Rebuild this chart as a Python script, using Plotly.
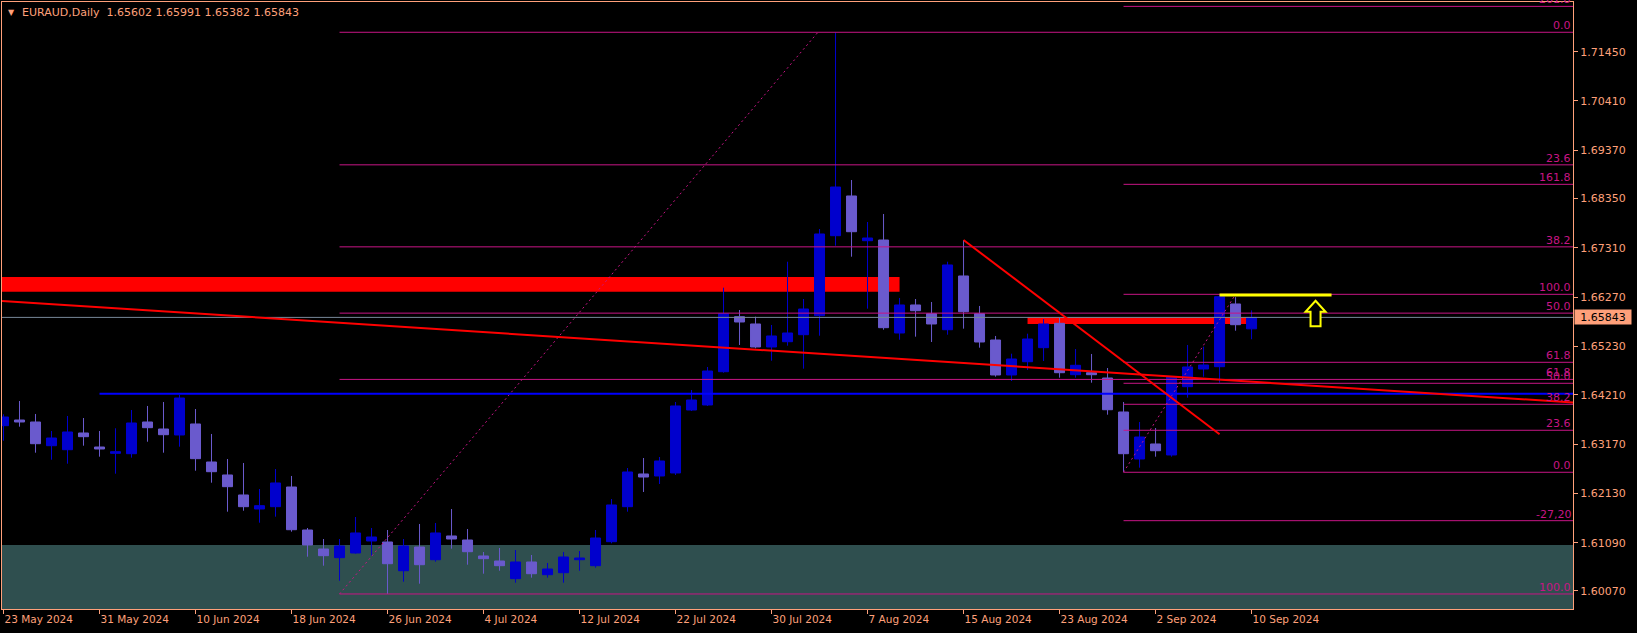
import plotly.graph_objects as go

# ---------------- data ----------------
symbol = "EURAUD,Daily"
# daily bars, index 0 = 23 May 2024 ... index 78 = 10 Sep 2024 (weekdays)
opens = [1.63558, 1.63678, 1.63636, 1.63136, 1.63051, 1.63404, 1.63108, 1.62975, 1.62967, 1.63636,
         1.63488, 1.63362, 1.63594, 1.62792, 1.62518, 1.62096, 1.61800, 1.61849, 1.62264, 1.61357,
         1.60956, 1.60773, 1.60872, 1.61125, 1.61104, 1.60498, 1.60998, 1.60730, 1.61231, 1.61146,
         1.60809, 1.60703, 1.60330, 1.60682, 1.60414, 1.60456, 1.60730, 1.60604, 1.61110, 1.61849,
         1.62539, 1.62497, 1.62560, 1.63889, 1.63995, 1.64697, 1.65858, 1.65704, 1.65219, 1.65330,
         1.65478, 1.65879, 1.67567, 1.68405, 1.67461, 1.67476, 1.65514, 1.66105, 1.65921, 1.65583,
         1.66717, 1.65921, 1.65366, 1.64628, 1.64908, 1.65204, 1.65718, 1.64634, 1.64676, 1.64564,
         1.63847, 1.62855, 1.63172, 1.62940, 1.64381, 1.64754, 1.64803, 1.66126, 1.65602]
highs = [1.63798, 1.64079, 1.63805, 1.63446, 1.63763, 1.63720, 1.63446, 1.63503, 1.63889, 1.63974,
         1.64058, 1.64206, 1.63910, 1.63383, 1.62855, 1.62771, 1.62222, 1.62644, 1.62497, 1.61399,
         1.61167, 1.61167, 1.61631, 1.61399, 1.61357, 1.61167, 1.61484, 1.61505, 1.61800, 1.61378,
         1.60893, 1.60977, 1.60935, 1.60830, 1.60661, 1.60893, 1.60914, 1.61357, 1.62011, 1.62665,
         1.62876, 1.62897, 1.64058, 1.64311, 1.64797, 1.66470, 1.65999, 1.65858, 1.65683, 1.67018,
         1.66231, 1.67708, 1.71855, 1.68742, 1.67856, 1.68025, 1.66253, 1.66231, 1.66168, 1.67018,
         1.67476, 1.66084, 1.65451, 1.65077, 1.65499, 1.65809, 1.65831, 1.65176, 1.65071, 1.64775,
         1.64058, 1.63636, 1.63509, 1.64607, 1.65261, 1.65225, 1.66325, 1.66270, 1.65991]
lows = [1.63241, 1.63537, 1.62988, 1.62840, 1.62756, 1.63136, 1.62904, 1.62545, 1.62883, 1.63220,
        1.62988, 1.63115, 1.62608, 1.62355, 1.61743, 1.61764, 1.61511, 1.61638, 1.61321, 1.60794,
        1.60604, 1.60287, 1.60857, 1.60815, 1.60007, 1.60266, 1.60224, 1.60688, 1.60963, 1.60625,
        1.60435, 1.60498, 1.60245, 1.60351, 1.60351, 1.60245, 1.60498, 1.60562, 1.61076, 1.61743,
        1.62159, 1.62328, 1.62518, 1.63868, 1.63974, 1.64676, 1.65261, 1.65191, 1.64929, 1.65246,
        1.64761, 1.65457, 1.67356, 1.67124, 1.66027, 1.65583, 1.65372, 1.65436, 1.65324, 1.65478,
        1.65605, 1.65204, 1.64592, 1.64501, 1.64733, 1.64923, 1.64571, 1.64571, 1.64465, 1.63790,
        1.62578, 1.62672, 1.62904, 1.62904, 1.64149, 1.64592, 1.64465, 1.65562, 1.65382]
closes = [1.63741, 1.63636, 1.63178, 1.63298, 1.63425, 1.63326, 1.63066, 1.63009, 1.63615, 1.63516,
          1.63368, 1.64142, 1.62862, 1.62587, 1.62271, 1.61849, 1.61870, 1.62349, 1.61363, 1.61041,
          1.60815, 1.61020, 1.61294, 1.61209, 1.60646, 1.61020, 1.60625, 1.61294, 1.61167, 1.60899,
          1.60752, 1.60604, 1.60682, 1.60435, 1.60534, 1.60787, 1.60766, 1.61188, 1.61885, 1.62581,
          1.62475, 1.62813, 1.63974, 1.64100, 1.64712, 1.65921, 1.65746, 1.65219, 1.65451, 1.65514,
          1.66020, 1.67603, 1.68594, 1.67651, 1.67518, 1.65626, 1.66105, 1.65984, 1.65704, 1.66949,
          1.65963, 1.65324, 1.64628, 1.64965, 1.65387, 1.65704, 1.64676, 1.64832, 1.64634, 1.63895,
          1.62967, 1.63319, 1.63030, 1.64592, 1.64797, 1.64839, 1.66280, 1.65689, 1.65843]
bar_index = list(range(len(closes)))

date_tick_index = [0, 6, 12, 18, 24, 30, 36, 42, 48, 54, 60, 66, 72, 78]
date_tick_labels = ["23 May 2024", "31 May 2024", "10 Jun 2024", "18 Jun 2024", "26 Jun 2024",
                    "4 Jul 2024", "12 Jul 2024", "22 Jul 2024", "30 Jul 2024", "7 Aug 2024",
                    "15 Aug 2024", "23 Aug 2024", "2 Sep 2024", "10 Sep 2024"]
price_ticks = [1.60070, 1.61090, 1.62130, 1.63170, 1.64210, 1.65230,
               1.66270, 1.67310, 1.68350, 1.69370, 1.70410, 1.71450]

# Fibonacci retracement 1 (26 Jun low -> 5 Aug high)
fib1_start = (21, 1.60007)
fib1_end = (50.9, 1.71859)
fib1_levels = [0.0, 23.6, 38.2, 50.0, 61.8, 100.0]
fib1_texts = ["0.0", "23.6", "38.2", "50.0", "61.8", "100.0"]
# Fibonacci retracement 2 (29 Aug low -> 9 Sep high)
fib2_start = (70, 1.62575)
fib2_end = (77, 1.66330)
fib2_levels = [-27.2, 0.0, 23.6, 38.2, 50.0, 61.8, 100.0, 161.8, 261.8]
fib2_texts = ["-27,20", "0.0", "23.6", "38.2", "50.0", "61.8", "100.0", "161.8", "261.8"]

# other drawn objects
support_zone_top = 1.61041
resistance_band_1 = (-3, 56, 1.66385, 1.66695)
resistance_band_2 = (64, 78, 1.65704, 1.65851)
blue_level = (6, 1.64233)
long_trend = [(0, 1.66189), (98, 1.64049)]
down_trend = [(60, 1.67476), (76, 1.63376)]
breakout_level = [(76, 1.66316), (83, 1.66316)]
arrow_anchor = (82, 1.66195)
current_price = closes[-1]

# ---------------- style / layout ----------------
W, H = 1637, 633
ML, MR, MT, MB = 2, 64, 2, 24
X_RANGE = [-0.094, 98.09]
Y_RANGE = [1.59690, 1.72498]
FG = "#FFA07A"
BULL = "#0000CD"
BEAR = "#6A5ACD"
FIB = "#C71585"
FONT = "DejaVu Sans"

px_per_x = (W - ML - MR) / (X_RANGE[1] - X_RANGE[0])
px_per_y = (H - MT - MB) / (Y_RANGE[1] - Y_RANGE[0])

fig = go.Figure()
fig.add_trace(go.Candlestick(
    x=bar_index, open=opens, high=highs, low=lows, close=closes,
    increasing=dict(line=dict(color=BULL, width=1), fillcolor=BULL),
    decreasing=dict(line=dict(color=BEAR, width=1), fillcolor=BEAR),
    whiskerwidth=0, hoverinfo="skip", showlegend=False,
))

shapes = []
annotations = []

# background objects
shapes.append(dict(type="rect", xref="paper", yref="y", x0=0, x1=1,
                   y0=Y_RANGE[0] - 0.01, y1=support_zone_top,
                   fillcolor="#2F4F4F", line=dict(width=0), layer="below"))
for x0, x1, y0, y1 in (resistance_band_1, resistance_band_2):
    shapes.append(dict(type="rect", xref="x", yref="y", x0=x0, x1=x1, y0=y0, y1=y1,
                       fillcolor="#FF0000", line=dict(width=0), layer="below"))

# fib 1
f1_lo, f1_hi = fib1_start[1], fib1_end[1]
for lv, tx in zip(fib1_levels, fib1_texts):
    p = f1_hi - lv / 100.0 * (f1_hi - f1_lo)
    shapes.append(dict(type="line", xref="x", yref="y", x0=fib1_start[0], x1=X_RANGE[1],
                       y0=p, y1=p, line=dict(color=FIB, width=1), layer="above"))
    annotations.append(dict(xref="paper", yref="y", x=1, y=p, text=tx, showarrow=False,
                            xanchor="right", yanchor="bottom", yshift=-2,
                            font=dict(family=FONT, size=11, color=FIB)))
shapes.append(dict(type="line", xref="x", yref="y", x0=fib1_start[0], y0=fib1_start[1],
                   x1=fib1_end[0], y1=fib1_end[1],
                   line=dict(color=FIB, width=1, dash="2px,3px"), layer="above"))

# fib 2
f2_lo, f2_hi = fib2_start[1], fib2_end[1]
for lv, tx in zip(fib2_levels, fib2_texts):
    p = f2_lo + lv / 100.0 * (f2_hi - f2_lo)
    shapes.append(dict(type="line", xref="x", yref="y", x0=fib2_start[0], x1=X_RANGE[1],
                       y0=p, y1=p, line=dict(color=FIB, width=1), layer="above"))
    annotations.append(dict(xref="paper", yref="y", x=1, y=p, text=tx, showarrow=False,
                            xanchor="right", yanchor="bottom", yshift=-2,
                            font=dict(family=FONT, size=11, color=FIB)))
shapes.append(dict(type="line", xref="x", yref="y", x0=fib2_start[0], y0=fib2_start[1],
                   x1=fib2_end[0], y1=fib2_end[1],
                   line=dict(color=FIB, width=1, dash="2px,3px"), layer="above"))

# current price line
shapes.append(dict(type="line", xref="paper", yref="y", x0=0, x1=1, y0=current_price,
                   y1=current_price, line=dict(color="#778899", width=1), layer="above"))
# blue horizontal level
shapes.append(dict(type="line", xref="x", yref="y", x0=blue_level[0], x1=X_RANGE[1],
                   y0=blue_level[1], y1=blue_level[1],
                   line=dict(color="#0000FF", width=2), layer="above"))
# long red trend line (extended both ways)
(ta, pa), (tb, pb) = long_trend
slope = (pb - pa) / (tb - ta)
xl, xr = X_RANGE[0] - 1, X_RANGE[1] + 1
shapes.append(dict(type="line", xref="x", yref="y", x0=xl, y0=pa + slope * (xl - ta),
                   x1=xr, y1=pa + slope * (xr - ta),
                   line=dict(color="#FF0000", width=2), layer="above"))
# short red down trend
shapes.append(dict(type="line", xref="x", yref="y", x0=down_trend[0][0], y0=down_trend[0][1],
                   x1=down_trend[1][0], y1=down_trend[1][1],
                   line=dict(color="#FF0000", width=2), layer="above"))
# yellow breakout level
shapes.append(dict(type="line", xref="x", yref="y", x0=breakout_level[0][0], y0=breakout_level[0][1],
                   x1=breakout_level[1][0], y1=breakout_level[1][1],
                   line=dict(color="#FFFF00", width=3), layer="above"))
# yellow up arrow (outline)
arrow_outline_px = [(0, 0), (10, 11), (5, 11), (5, 25.5), (-5, 25.5), (-5, 11), (-10, 11)]
ax, ay = arrow_anchor
path = "M " + " L ".join(f"{ax + dx / px_per_x:.5f},{ay - dy / px_per_y:.6f}"
                         for dx, dy in arrow_outline_px) + " Z"
shapes.append(dict(type="path", xref="x", yref="y", path=path, fillcolor="#000000",
                   line=dict(color="#FFFF00", width=2), layer="above"))

# current price tag on axis
annotations.append(dict(xref="paper", yref="y", x=1, y=current_price, text=f"{current_price:.5f}",
                        showarrow=False, xanchor="left", yanchor="middle", xshift=1,
                        width=56, height=14, align="center", bgcolor=FG, borderpad=0,
                        font=dict(family=FONT, size=11, color="#000000")))
# header
annotations.append(dict(xref="paper", yref="paper", x=0, y=1, text="\u25BC", showarrow=False,
                        xanchor="center", yanchor="middle", xshift=9, yshift=-10,
                        font=dict(family=FONT, size=8, color=FG)))
header = (symbol + "\u00a0\u00a0" + " ".join(f"{v:.5f}" for v in
          (opens[-1], highs[-1], lows[-1], closes[-1])))
annotations.append(dict(xref="paper", yref="paper", x=0, y=1, text=header, showarrow=False,
                        xanchor="left", yanchor="middle", xshift=18, yshift=-10.5,
                        font=dict(family=FONT, size=11, color=FG)))

fig.update_layout(
    width=W, height=H, margin=dict(l=ML, r=MR, t=MT, b=MB, autoexpand=False),
    paper_bgcolor="#000000", plot_bgcolor="#000000",
    boxgap=0.375, boxgroupgap=0,
    shapes=shapes, annotations=annotations, showlegend=False,
    xaxis=dict(range=X_RANGE, rangeslider=dict(visible=False), showgrid=False, zeroline=False,
               automargin=False,
               tickmode="array", tickvals=date_tick_index, ticktext=date_tick_labels,
               ticks="outside", ticklen=4, tickcolor=FG, ticklabelposition="outside right",
               tickfont=dict(family=FONT, size=10.5, color=FG),
               showline=True, linecolor=FG, linewidth=1, mirror=True, fixedrange=True),
    yaxis=dict(range=Y_RANGE, side="right", showgrid=False, zeroline=False,
               automargin=False,
               tickmode="array", tickvals=price_ticks,
               ticktext=[f"{v:.5f}" for v in price_ticks],
               ticks="outside", ticklen=4, tickcolor=FG,
               tickfont=dict(family=FONT, size=11, color=FG),
               showline=True, linecolor=FG, linewidth=1, mirror=True, fixedrange=True),
)

fig.write_html(
    "out.html",
    config={"displayModeBar": False},
    post_script="document.body.style.margin='0px';document.body.style.background='#000000';"
                "document.body.style.overflow='hidden';",
)
